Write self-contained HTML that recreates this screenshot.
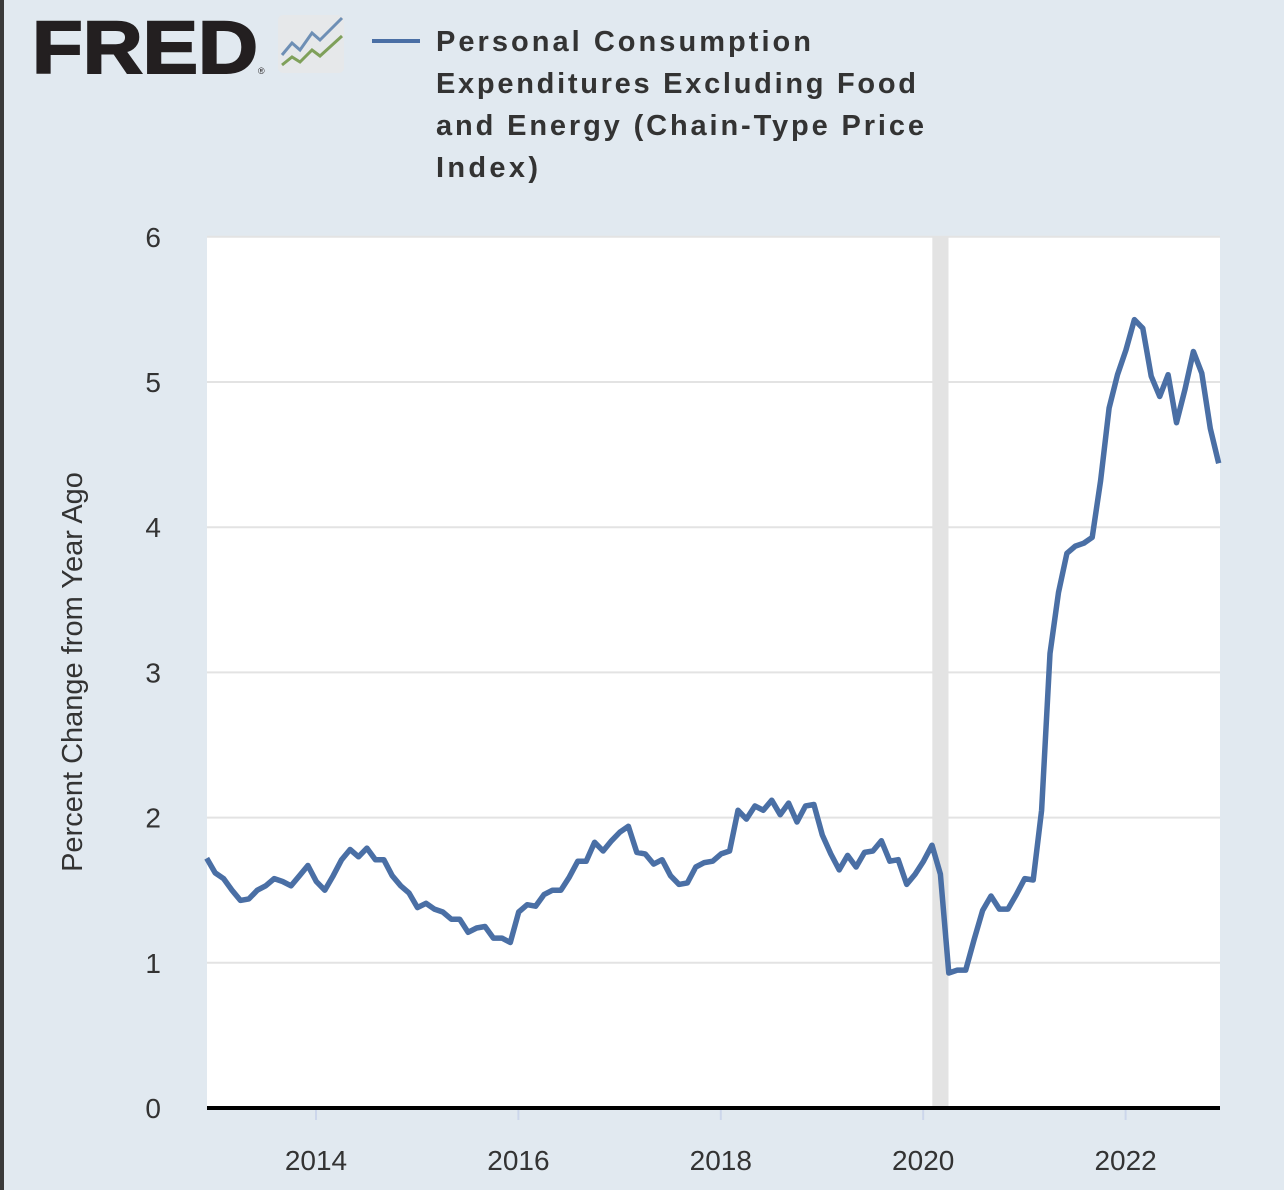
<!DOCTYPE html>
<html><head><meta charset="utf-8"><style>
body{margin:0;width:1284px;height:1190px;overflow:hidden;background:#e1e9f0;font-family:"Liberation Sans",sans-serif}
#wrap{position:relative;width:1284px;height:1190px;border-left:4px solid #3a3a3a;box-sizing:border-box}
</style></head><body>
<div id="wrap">
<svg id="svg" width="1284" height="1190" style="position:absolute;left:-4px;top:0">
  <g>
    <text x="32" y="73" font-family="Liberation Sans" font-weight="bold" font-size="74" fill="#231f20" textLength="226" lengthAdjust="spacingAndGlyphs" stroke="#231f20" stroke-width="2">FRED</text>
    <text x="258" y="74" font-size="9" fill="#231f20">®</text>
    <rect x="278" y="15" width="66" height="58" rx="5" fill="#e6e8ea"/>
    <polyline points="282,55 292,43 300,50 312,33 320,40 342,18" fill="none" stroke="#6e8fb5" stroke-width="3"/>
    <polyline points="282,65 292,57 300,62 312,50 320,56 342,36" fill="none" stroke="#7fa05a" stroke-width="3"/>
  </g>
  <g>
    <line x1="372" y1="41" x2="420" y2="41" stroke="#4a6fa5" stroke-width="4"/>
    <g font-family="Liberation Sans" font-weight="bold" font-size="29" fill="#333">
      <text x="436" y="51" textLength="375" lengthAdjust="spacing">Personal Consumption</text>
      <text x="436" y="93" textLength="480" lengthAdjust="spacing">Expenditures Excluding Food</text>
      <text x="436" y="135" textLength="488" lengthAdjust="spacing">and Energy (Chain-Type Price</text>
      <text x="436" y="177" textLength="102" lengthAdjust="spacing">Index)</text>
    </g>
  </g>
  <rect x="207" y="237" width="1013" height="871" fill="#fff"/>
  <g id="grid"></g>
  <rect id="rec" fill="#e3e3e3"/>
  <g id="ylabels" font-size="28" fill="#333" text-anchor="end"></g>
  <g id="xlabels" font-size="28" fill="#333" text-anchor="middle"></g>
  <text transform="translate(82,672) rotate(-90)" text-anchor="middle" font-size="29" fill="#333">Percent Change from Year Ago</text>
  <path id="line" fill="none" stroke="#4a6fa5" stroke-width="5.5" stroke-linejoin="round"/>
  <line x1="207" y1="1108" x2="1220" y2="1108" stroke="#000" stroke-width="4"/>
</svg>
</div>
<script>
const yTicks=[0,1,2,3,4,5,6];
const xTicks=[2014,2016,2018,2020,2022];
const recession=[2020.09,2020.25];
const values=[1.72,1.62,1.58,1.50,1.43,1.44,1.50,1.53,1.58,1.56,1.53,1.60,1.67,1.56,1.50,1.60,1.71,1.78,1.73,1.79,1.71,1.71,1.60,1.53,1.48,1.38,1.41,1.37,1.35,1.30,1.30,1.21,1.24,1.25,1.17,1.17,1.14,1.35,1.40,1.39,1.47,1.50,1.50,1.59,1.70,1.70,1.83,1.77,1.84,1.90,1.94,1.76,1.75,1.68,1.71,1.60,1.54,1.55,1.66,1.69,1.70,1.75,1.77,2.05,1.99,2.08,2.05,2.12,2.02,2.10,1.97,2.08,2.09,1.88,1.75,1.64,1.74,1.66,1.76,1.77,1.84,1.70,1.71,1.54,1.61,1.70,1.81,1.61,0.93,0.95,0.95,1.16,1.36,1.46,1.37,1.37,1.47,1.58,1.57,2.05,3.13,3.55,3.82,3.87,3.89,3.93,4.32,4.82,5.05,5.22,5.43,5.37,5.04,4.90,5.05,4.72,4.95,5.21,5.06,4.68,4.44];
const endYear=2022.92;
const ns="http://www.w3.org/2000/svg";
const X=t=>316+(t-2014)*101.2;
const Y=v=>1108-v*145.2;
const grid=document.getElementById('grid'),yl=document.getElementById('ylabels'),xl=document.getElementById('xlabels');
yTicks.forEach(v=>{
  if(v>0){const l=document.createElementNS(ns,'line');
  l.setAttribute('x1',207);l.setAttribute('x2',1220);l.setAttribute('y1',Y(v));l.setAttribute('y2',Y(v));
  l.setAttribute('stroke','#e3e3e3');l.setAttribute('stroke-width','2');
  
  
  grid.appendChild(l);}
  const t=document.createElementNS(ns,'text');
  t.setAttribute('x',161);t.setAttribute('y',Y(v)+10);t.textContent=v;
  
  
  yl.appendChild(t);
});
xTicks.forEach(yr=>{
  const t=document.createElementNS(ns,'text');
  t.setAttribute('x',X(yr));t.setAttribute('y',1170);t.textContent=yr;
  
  
  xl.appendChild(t);
  const k=document.createElementNS(ns,'line');
  k.setAttribute('x1',X(yr));k.setAttribute('x2',X(yr));k.setAttribute('y1',1110);k.setAttribute('y2',1120);
  k.setAttribute('stroke','#ccd6eb');k.setAttribute('stroke-width','2');
  
  
  xl.appendChild(k);
});
const r=document.getElementById('rec');
r.setAttribute('x',X(recession[0]));r.setAttribute('width',X(recession[1])-X(recession[0]));
r.setAttribute('y',237);r.setAttribute('height',871);
const N=values.length;
let d='';
values.forEach((v,i)=>{const t=endYear-(N-1-i)/12;d+=(i?'L':'M')+X(t).toFixed(1)+','+Y(v).toFixed(1);});
document.getElementById('line').setAttribute('d',d);
</script>
</body></html>
